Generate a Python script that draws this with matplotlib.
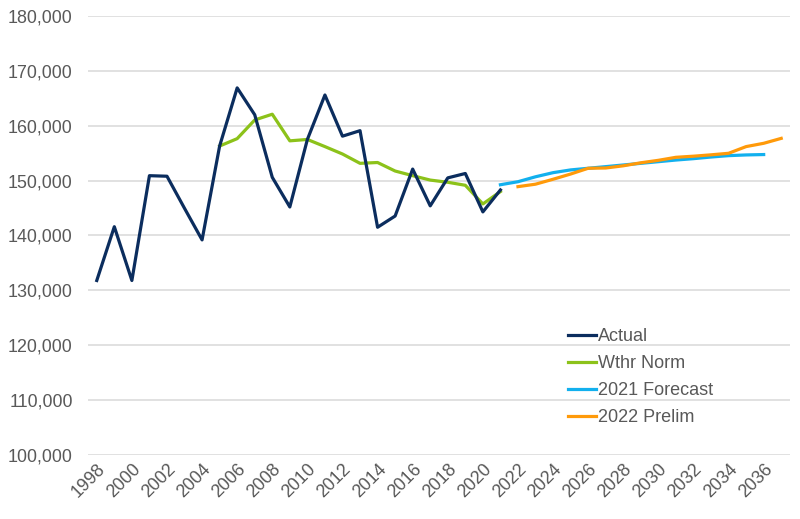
import matplotlib
matplotlib.use("Agg")
import matplotlib.pyplot as plt
import numpy as np

plt.rcParams['font.family'] = ['Liberation Sans', 'DejaVu Sans']

years = list(range(1998, 2038))

actual_years = list(range(1998, 2022))
actual = [131800, 141600, 131800, 150900, 150800, 144950, 139200, 156300,
          166900, 162000, 150600, 145200, 157500, 165600, 158100, 159100,
          141500, 143550, 152100, 145400, 150500, 151300, 144300, 148300]

wthr_years = list(range(2005, 2022))
wthr = [156300, 157650, 161050, 162100, 157250, 157500, 156200, 154850,
        153150, 153300, 151750, 150900, 150100, 149700, 149150, 145750, 148000]

fc21_years = list(range(2021, 2037))
fc21 = [149250, 149800, 150700, 151450, 151950, 152250, 152550, 152850,
        153150, 153450, 153750, 154000, 154300, 154550, 154680, 154750]

pre22_years = list(range(2022, 2038))
pre22 = [148900, 149350, 150250, 151200, 152250, 152300, 152700, 153250,
         153700, 154250, 154450, 154700, 154980, 156200, 156800, 157700]

yticks = list(range(100000, 180001, 10000))
xtick_years = list(range(1998, 2037, 2))

def idx(ys):
    return [years.index(y) for y in ys]

fig = plt.figure(figsize=(8, 5.19), dpi=100)
ax = fig.add_axes([0.11, 0.1233, 0.8775, 0.8459])

lw = 2.3
ax.plot(idx(actual_years), actual, color='#0B2D5E', lw=lw, label='Actual', zorder=4)
ax.plot(idx(wthr_years), wthr, color='#8CC21A', lw=lw, label='Wthr Norm', zorder=3)
ax.plot(idx(fc21_years), fc21, color='#12B0EE', lw=lw, label='2021 Forecast', zorder=2)
ax.plot(idx(pre22_years), pre22, color='#FF9A0A', lw=lw, label='2022 Prelim', zorder=2)

ax.set_xlim(-0.5, len(years) - 0.5)
ax.set_ylim(100000, 180000)
ax.set_yticks(yticks)
ax.set_yticklabels([f"{v:,}" for v in yticks])
ax.set_xticks(idx(xtick_years))
ax.set_xticklabels([str(y) for y in xtick_years], rotation=45, ha='right',
                   rotation_mode='anchor')

ax.grid(axis='y', color='#D9D9D9', lw=1.1)
ax.set_axisbelow(True)
for s in ax.spines.values():
    s.set_visible(False)
ax.tick_params(axis='both', length=0, colors='#595959', labelsize=12.9)
ax.tick_params(axis='y', pad=11)
ax.tick_params(axis='x', pad=4)

leg = ax.legend(loc='upper left', bbox_to_anchor=(568/800, 1 - 328/519),
                bbox_transform=fig.transFigure, frameon=False, fontsize=13,
                handlelength=1.55, handletextpad=0.1, labelspacing=0.56,
                borderpad=0, borderaxespad=0)
for t in leg.get_texts():
    t.set_color('#595959')

fig.savefig('out.png', dpi=100)
